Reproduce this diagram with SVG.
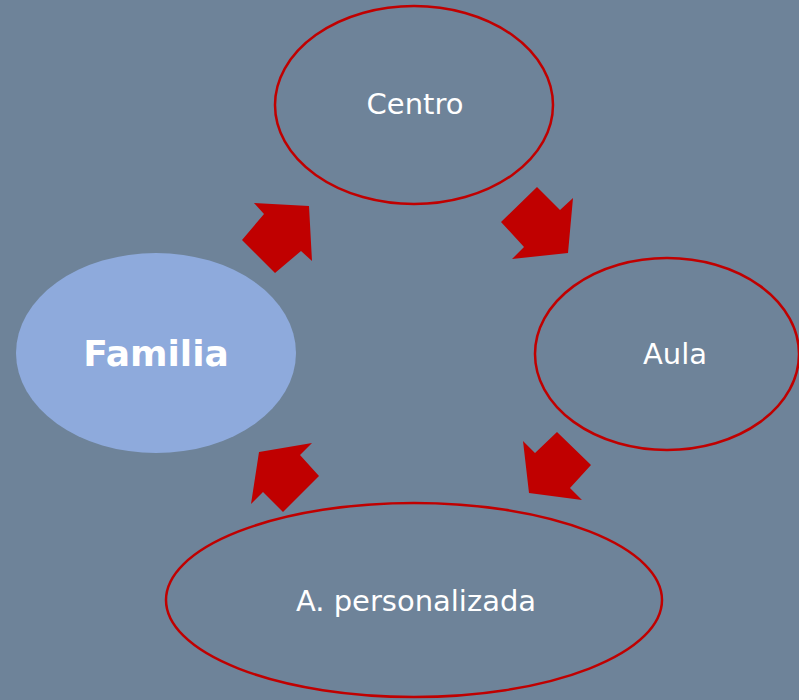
<svg xmlns="http://www.w3.org/2000/svg" width="799" height="700" viewBox="0 0 799 700">
<style>
.n{fill:none;stroke:#c00000;stroke-width:2.5}
.t{fill:#ffffff;font-family:"DejaVu Sans",sans-serif;font-size:29px;text-anchor:middle}
.a{fill:#c00000}
</style>
<rect width="799" height="700" fill="#6e8399"/>
<g id="familia">
<ellipse cx="156" cy="353" rx="140" ry="100" fill="#8eaadc"/>
<text class="t" x="156" y="366" style="font-size:36px;font-weight:bold">Familia</text>
</g>
<g id="centro">
<ellipse class="n" cx="414" cy="105" rx="139" ry="99"/>
<text class="t" x="415" y="114">Centro</text>
</g>
<g id="aula">
<ellipse class="n" cx="667" cy="354" rx="132" ry="96"/>
<text class="t" x="675" y="364">Aula</text>
</g>
<g id="personalizada">
<ellipse class="n" cx="414" cy="600" rx="248" ry="97"/>
<text class="t" x="416" y="611">A. personalizada</text>
</g>
<g id="connectors">
<polygon class="a" points="254,203 309,206 312,261 301,251 275,273 242,240 264,214"/>
<polygon class="a" points="537,187 560,210 573,198 568,253 512,259 524,247 501,222"/>
<polygon class="a" points="523,441 535,453 557,432 591,465 570,488 582,500 529,493"/>
<polygon class="a" points="312,443 300,455 319,476 283,512 263,492 251,504 259,452"/>
</g>
</svg>
